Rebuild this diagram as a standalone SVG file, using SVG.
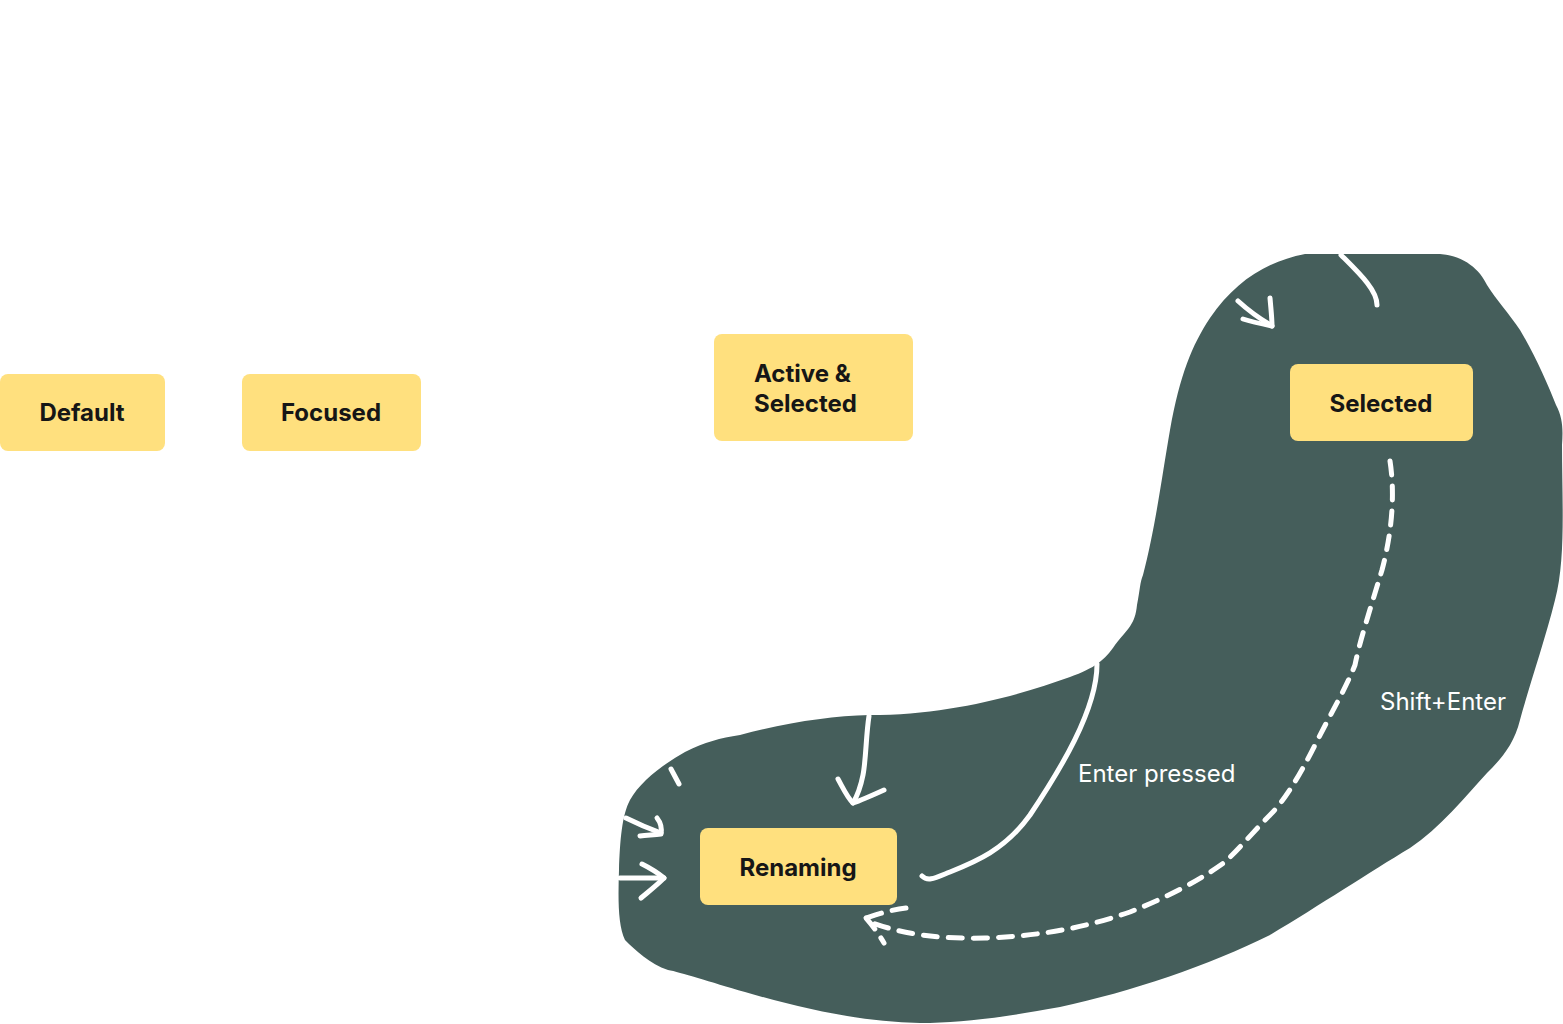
<svg xmlns="http://www.w3.org/2000/svg" width="1563" height="1024" viewBox="0 0 1563 1024">
<style>
.node rect{fill:#FFE07E}
.node text{font-family:Inter,"Noto Sans",sans-serif;font-weight:700;font-size:24px;fill:#161616}
.lbl{font-family:Inter,"Noto Sans",sans-serif;font-size:24px;fill:#ffffff}
.c{fill:none;stroke:#ffffff;stroke-width:5;stroke-linecap:round;stroke-linejoin:round}
.d{stroke-dasharray:14 11}
</style>
<rect width="1563" height="1024" fill="#ffffff"/>
<path id="blob" fill="#455E5B" d="M1305,254 L1440,254 C1465,256 1480,270 1487,285 C1495,298 1510,315 1520,330 C1535,355 1548,385 1556,405 C1563,418 1563,430 1562,445 C1562,500 1566,560 1555,600 C1545,640 1528,690 1520,720 C1514,745 1500,760 1487,773 C1465,797 1440,828 1410,848 C1370,872 1320,905 1270,935 C1210,965 1130,992 1060,1007 C1000,1018 960,1023 920,1023 C860,1022 800,1008 745,992 C710,982 680,972 668,970 C650,964 635,950 625,940 C618,925 618,900 619,870 C620,840 622,815 630,800 C640,782 662,765 685,752 C705,742 720,738 740,735 C790,722 830,716 870,715 C950,715 1020,695 1070,677 C1095,668 1105,660 1115,645 C1128,628 1135,625 1137,605 C1140,590 1140,582 1143,575 C1155,530 1163,470 1170,430 C1180,375 1192,345 1210,318 C1235,282 1265,262 1305,254 Z"/>
<g id="connectors">
<path class="c" d="M1341,255 C1360,274 1377,290 1377,305"/>
<path class="c" d="M1238,301 C1250,312 1262,320 1272,326"/>
<path class="c" d="M1270,298 C1271,310 1272,318 1272,326 C1262,324 1252,322 1243,319"/>
<path class="c" d="M869,716 C866,735 866,760 863,775 C860,790 856,798 853,803"/>
<path class="c" d="M838,779 C843,788 847,797 853,803 C862,800 873,795 884,790"/>
<path class="c" d="M671,769 L679,784"/>
<path class="c" d="M626,818 C638,824 650,829 661,833"/>
<path class="c" d="M657,818 C661,823 662,828 661,834 C654,835 647,835 640,836"/>
<path class="c" d="M620,878 C635,878 650,878 664,878"/>
<path class="c" d="M642,864 C652,869 658,873 664,878 C656,886 648,892 641,898"/>
<path class="c" d="M1097,664 C1097,710 1060,770 1030,815 C1005,850 975,862 950,872 C935,878 928,882 922,876"/>
<path class="c d" d="M1390,461 C1396,500 1390,540 1382,570 C1370,610 1360,640 1355,665 C1345,690 1330,715 1315,745 C1300,775 1285,800 1270,815 C1255,830 1240,848 1225,862 C1200,880 1170,896 1130,912 C1090,926 1045,936 985,938 C940,939 905,935 870,922"/>
<path class="c d" d="M906,908 C890,910 878,914 866,918"/>
<path class="c d" d="M866,918 C873,926 878,933 884,943"/>
</g>
<g id="default" class="node"><rect x="0" y="374" width="165" height="77" rx="8"/><text x="82" y="421" text-anchor="middle">Default</text></g>
<g id="focused" class="node"><rect x="242" y="374" width="179" height="77" rx="8"/><text x="331" y="421" text-anchor="middle">Focused</text></g>
<g id="active" class="node"><rect x="714" y="334" width="199" height="107" rx="8"/><text x="754" y="382">Active &amp;</text><text x="754" y="412">Selected</text></g>
<g id="selected" class="node"><rect x="1290" y="364" width="183" height="77" rx="8"/><text x="1381" y="412" text-anchor="middle">Selected</text></g>
<g id="renaming" class="node"><rect x="700" y="828" width="197" height="77" rx="8"/><text x="798" y="876" text-anchor="middle">Renaming</text></g>
<text class="lbl" x="1078" y="782">Enter pressed</text>
<text class="lbl" x="1380" y="710">Shift+Enter</text>
</svg>
